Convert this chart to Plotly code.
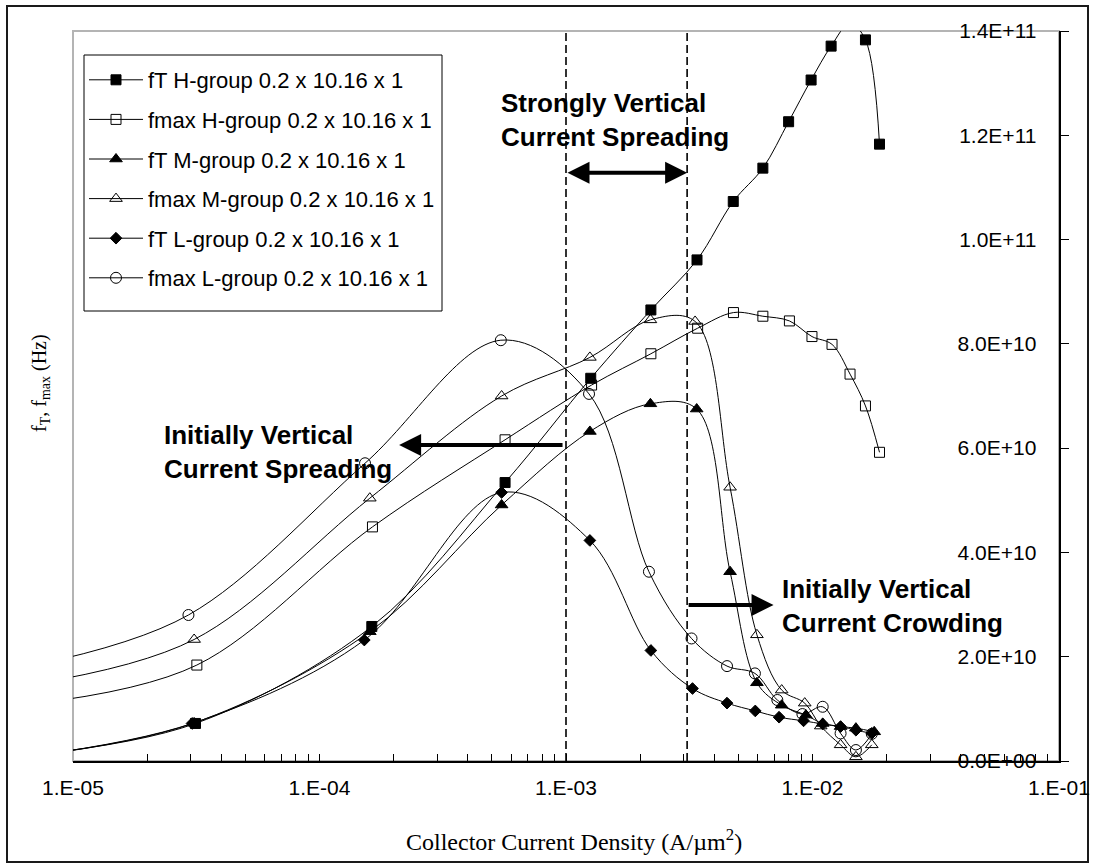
import math
import plotly.graph_objects as go

# Collector current density (A/um^2) and measured cut-off frequencies (Hz).
# The first point of every series lies just left of the axis window so the
# curves enter from the left edge.
jc_ft_h = [7e-6, 3.14e-5, 1.63e-4, 5.66e-4, 1.26e-3, 2.21e-3, 3.40e-3, 4.77e-3,
           6.29e-3, 8.0e-3, 9.87e-3, 1.19e-2, 1.42e-2, 1.64e-2, 1.87e-2]
ft_h = [1.2e9, 7.2e9, 25.8e9, 53.4e9, 73.4e9, 86.5e9, 96.1e9, 107.3e9,
        113.7e9, 122.6e9, 130.6e9, 137.1e9, 141.5e9, 138.3e9, 118.3e9]

jc_fmax_h = [7e-6, 3.18e-5, 1.64e-4, 5.66e-4, 1.27e-3, 2.21e-3, 3.42e-3, 4.78e-3,
             6.29e-3, 8.06e-3, 9.95e-3, 1.20e-2, 1.42e-2, 1.64e-2, 1.87e-2]
fmax_h = [11.0e9, 18.4e9, 44.9e9, 61.6e9, 72.1e9, 78.1e9, 83.0e9, 86.0e9,
          85.3e9, 84.4e9, 81.4e9, 79.9e9, 74.2e9, 68.1e9, 59.2e9]

jc_ft_m = [7e-6, 3.1e-5, 1.6e-4, 5.48e-4, 1.25e-3, 2.2e-3, 3.39e-3, 4.63e-3,
           5.95e-3, 7.5e-3, 9.4e-3, 1.1e-2, 1.3e-2, 1.5e-2, 1.78e-2]
ft_m = [1.0e9, 7.3e9, 24.8e9, 49.1e9, 63.2e9, 68.5e9, 67.5e9, 36.3e9,
        15.0e9, 10.7e9, 8.8e9, 7.2e9, 6.6e9, 6.3e9, 5.6e9]

jc_fmax_m = [7e-6, 3.1e-5, 1.6e-4, 5.48e-4, 1.25e-3, 2.2e-3, 3.34e-3, 4.63e-3,
             5.95e-3, 7.5e-3, 9.3e-3, 1.08e-2, 1.3e-2, 1.5e-2, 1.74e-2]
fmax_m = [14.8e9, 23.3e9, 50.4e9, 70.0e9, 77.4e9, 84.6e9, 84.3e9, 52.5e9,
          24.2e9, 13.6e9, 11.1e9, 6.7e9, 3.1e9, 0.8e9, 3.1e9]

jc_ft_l = [7e-6, 3.04e-5, 1.52e-4, 5.48e-4, 1.25e-3, 2.21e-3, 3.26e-3, 4.5e-3,
           5.86e-3, 7.32e-3, 9.2e-3, 1.1e-2, 1.3e-2, 1.5e-2, 1.74e-2]
ft_l = [1.0e9, 7.2e9, 23.2e9, 51.5e9, 42.3e9, 21.2e9, 13.9e9, 11.1e9,
        9.6e9, 8.4e9, 7.7e9, 7.1e9, 6.6e9, 5.9e9, 5.3e9]

jc_fmax_l = [7e-6, 2.94e-5, 1.53e-4, 5.44e-4, 1.24e-3, 2.17e-3, 3.23e-3, 4.5e-3,
             5.84e-3, 7.2e-3, 9.1e-3, 1.1e-2, 1.3e-2, 1.5e-2, 1.74e-2]
fmax_l = [18.4e9, 28.0e9, 57.1e9, 80.7e9, 70.4e9, 36.3e9, 23.5e9, 18.2e9,
          16.8e9, 11.7e9, 9.0e9, 10.4e9, 5.3e9, 2.1e9, 5.2e9]

series_names = [
    "fT H-group 0.2 x 10.16 x 1",
    "fmax H-group 0.2 x 10.16 x 1",
    "fT M-group 0.2 x 10.16 x 1",
    "fmax M-group 0.2 x 10.16 x 1",
    "fT L-group 0.2 x 10.16 x 1",
    "fmax L-group 0.2 x 10.16 x 1",
]

x_tick_vals = [1e-5, 1e-4, 1e-3, 1e-2, 1e-1]
x_tick_text = ["1.E-05", "1.E-04", "1.E-03", "1.E-02", "1.E-01"]
y_tick_vals = [0, 2e10, 4e10, 6e10, 8e10, 1.0e11, 1.2e11, 1.4e11]
y_tick_text = ["0.0E+00", "2.0E+10", "4.0E+10", "6.0E+10", "8.0E+10",
               "1.0E+11", "1.2E+11", "1.4E+11"]

# Region boundaries (A/um^2)
jc_boundaries = [1e-3, 3.1e-3]

SANS = "Arial, Liberation Sans, sans-serif"
SERIF = "Times New Roman, Liberation Serif, serif"

W, H = 1094, 868
M_L, M_R, M_T, M_B = 73, 35, 31, 107
PW = W - M_L - M_R
PH = H - M_T - M_B


def px_x(p):
    return (p - M_L) / PW


def px_y(p):
    return (H - M_B - p) / PH


# x ticks: labelled decades plus unlabelled 2..9 subdivisions
all_x_ticks = list(x_tick_vals)
all_x_text = list(x_tick_text)
for d in range(-5, -1):
    for k in range(2, 10):
        all_x_ticks.append(k * 10.0 ** d)
        all_x_text.append("")

fig = go.Figure()

styles = [
    ("square", 10),
    ("square-open", 10),
    ("triangle-up", 11),
    ("triangle-up-open", 11),
    ("diamond", 9),
    ("circle-open", 11),
]
data = [(jc_ft_h, ft_h), (jc_fmax_h, fmax_h), (jc_ft_m, ft_m),
        (jc_fmax_m, fmax_m), (jc_ft_l, ft_l), (jc_fmax_l, fmax_l)]

for name, (xs, ys), (sym, size) in zip(series_names, data, styles):
    fig.add_trace(go.Scatter(
        x=xs, y=ys, name=name, legendgroup=name,
        mode="lines+markers",
        line=dict(color="black", width=1, shape="spline", smoothing=1.0),
        marker=dict(symbol=sym, size=size, color="black",
                    line=dict(color="black", width=1)),
    ))

# dashed boundaries
for xb in jc_boundaries:
    fig.add_trace(go.Scatter(
        x=[xb, xb], y=[y_tick_vals[0], y_tick_vals[-1]], mode="lines",
        line=dict(color="black", width=1.6, dash="8px,4px"),
        showlegend=False, hoverinfo="skip",
    ))

lg = math.log10
annotations = [
    dict(xref="paper", yref="paper", x=px_x(499), y=px_y(120),
         xanchor="left", yanchor="middle", align="left", showarrow=False,
         text="<b>Strongly Vertical<br>Current Spreading</b>",
         font=dict(family=SANS, size=26, color="black")),
    dict(xref="paper", yref="paper", x=px_x(162), y=px_y(452),
         xanchor="left", yanchor="middle", align="left", showarrow=False,
         text="<b>Initially Vertical<br>Current Spreading</b>",
         font=dict(family=SANS, size=26, color="black")),
    dict(xref="paper", yref="paper", x=px_x(780), y=px_y(606),
         xanchor="left", yanchor="middle", align="left", showarrow=False,
         text="<b>Initially Vertical<br>Current Crowding</b>",
         font=dict(family=SANS, size=26, color="black")),
    # arrows
    dict(xref="x", yref="y", axref="x", ayref="y",
         x=lg(jc_boundaries[1]), y=1.128e11, ax=lg(jc_boundaries[0]), ay=1.128e11,
         text="", showarrow=True, arrowhead=2, arrowside="end+start",
         arrowwidth=4, arrowsize=1.1, arrowcolor="black", standoff=0, startstandoff=0),
    dict(xref="x", yref="y", axref="x", ayref="y",
         x=-3.677, y=6.06e10, ax=lg(jc_boundaries[0]) - 0.008, ay=6.06e10,
         text="", showarrow=True, arrowhead=2,
         arrowwidth=4, arrowsize=1.1, arrowcolor="black", standoff=0),
    dict(xref="x", yref="y", axref="x", ayref="y",
         x=-2.158, y=2.99e10, ax=lg(jc_boundaries[1]), ay=2.99e10,
         text="", showarrow=True, arrowhead=2,
         arrowwidth=4, arrowsize=1.1, arrowcolor="black", standoff=0),
    # axis titles
    dict(xref="paper", yref="paper", x=px_x(40), y=px_y(383),
         xanchor="center", yanchor="middle", showarrow=False, textangle=-90,
         text="f<sub>T</sub>, f<sub>max</sub> (Hz)",
         font=dict(family=SERIF, size=20, color="black")),
    dict(xref="paper", yref="paper", x=px_x(574), y=px_y(840),
         xanchor="center", yanchor="middle", showarrow=False,
         text="Collector Current Density (A/µm<sup>2</sup>)",
         font=dict(family=SERIF, size=24, color="black")),
]

shapes = [
    # plot-area frame
    dict(type="rect", xref="paper", yref="paper", x0=0, x1=1, y0=0, y1=1,
         line=dict(color="#b4b4b4", width=2), layer="below"),
    # chart border
    dict(type="rect", xref="paper", yref="paper",
         x0=px_x(7), x1=px_x(1088), y0=px_y(862), y1=px_y(6),
         line=dict(color="#1a1a1a", width=2), layer="below"),
    # legend box
    dict(type="rect", xref="paper", yref="paper",
         x0=px_x(84), x1=px_x(442), y0=px_y(311), y1=px_y(55),
         line=dict(color="black", width=1), fillcolor="white", layer="above"),
]

fig.update_layout(
    width=W, height=H,
    margin=dict(l=M_L, r=M_R, t=M_T, b=M_B, autoexpand=False),
    paper_bgcolor="white", plot_bgcolor="white",
    font=dict(family=SANS, color="black"),
    showlegend=True,
    legend=dict(
        x=px_x(84), y=px_y(59), xanchor="left", yanchor="top",
        bgcolor="rgba(0,0,0,0)", borderwidth=0,
        font=dict(family=SANS, size=22, color="black"),
        itemwidth=54, tracegroupgap=8, traceorder="grouped",
    ),
    annotations=annotations,
    shapes=shapes,
)

fig.update_xaxes(
    type="log", range=[-5, -1],
    tickmode="array", tickvals=all_x_ticks, ticktext=all_x_text,
    ticks="inside", ticklen=7, tickcolor="black", tickwidth=1,
    showline=True, linecolor="black", linewidth=1.5,
    showgrid=False, zeroline=False,
    tickfont=dict(family=SANS, size=21, color="black"),
    ticklabelstandoff=7,
)

fig.update_yaxes(
    side="right", range=[0, 1.4e11],
    tickvals=y_tick_vals, ticktext=y_tick_text,
    ticks="outside", ticklen=8, tickcolor="black", tickwidth=1,
    ticklabelposition="inside", ticklabelstandoff=24, ticklabeloverflow="allow",
    showline=True, linecolor="black", linewidth=1.5,
    showgrid=False, zeroline=False,
    tickfont=dict(family=SANS, size=21, color="black"),
)

fig.write_html("out.html")
